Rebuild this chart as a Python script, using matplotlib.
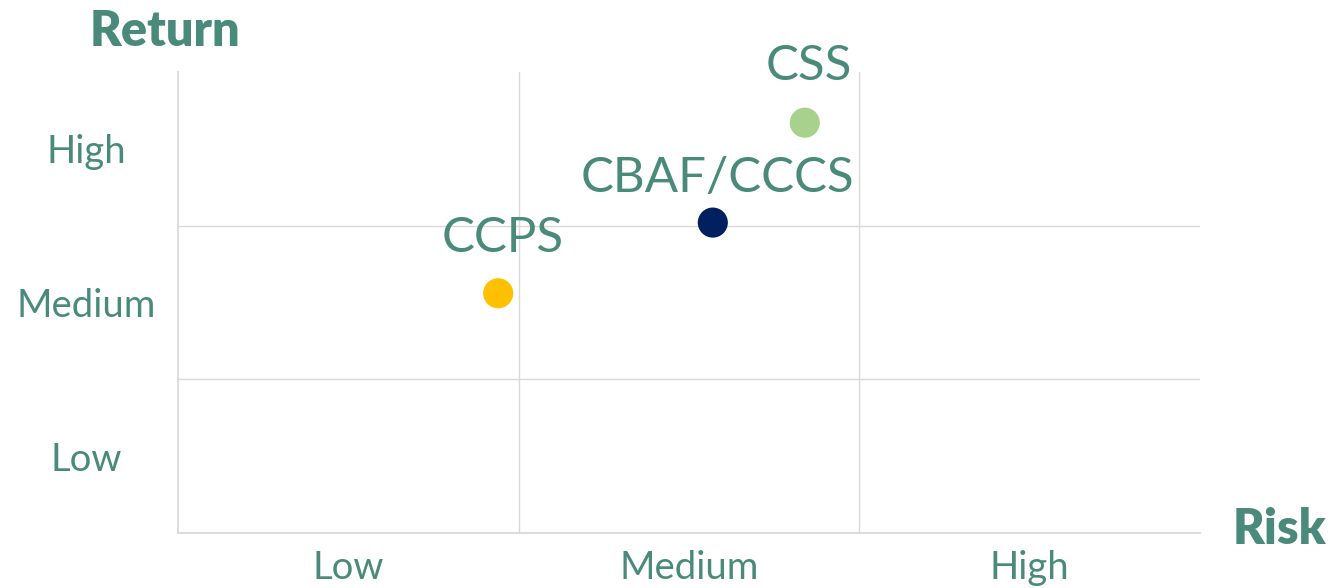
import matplotlib
matplotlib.use("Agg")
import matplotlib.pyplot as plt

plt.rcParams['font.family'] = ['Lato', 'DejaVu Sans']

# data
funds = ['CCPS', 'CBAF/CCCS', 'CSS']
risk = [0.94, 1.57, 1.84]
ret = [1.56, 2.02, 2.67]
fund_colors = ['#FFC000', '#002060', '#A9D18E']
levels = ['Low', 'Medium', 'High']

TEAL = '#4A8A7A'
GRID = '#D9D9D9'

fig = plt.figure(figsize=(13.33, 5.88), dpi=100)
ax = fig.add_axes([0.1335, 0.0935, 0.7667, 0.7841])

ax.set_xlim(0, 3)
ax.set_ylim(0, 3)

for v in [1, 2]:
    ax.axvline(v, color=GRID, lw=1, zorder=0)
    ax.axhline(v, color=GRID, lw=1, zorder=0)

ax.scatter(risk, ret, s=470, c=fund_colors, edgecolors='none', zorder=3)

label_offsets = [40, 32, 41]
for name, x, y, off in zip(funds, risk, ret, label_offsets):
    ax.annotate(name, (x, y), xytext=(3, off), textcoords='offset points',
                ha='center', va='center', fontsize=35.5, color=TEAL)

ax.set_xticks([0.5, 1.5, 2.5])
ax.set_xticklabels(levels)
ax.set_yticks([0.5, 1.5, 2.5])
ax.set_yticklabels(levels, ha='center')
ax.tick_params(axis='x', length=0, pad=12, labelsize=27.5, labelcolor=TEAL)
ax.tick_params(axis='y', length=0, pad=66, labelsize=27.5, labelcolor=TEAL)

for s in ['top', 'right']:
    ax.spines[s].set_visible(False)
for s in ['left', 'bottom']:
    ax.spines[s].set_color(GRID)
    ax.spines[s].set_linewidth(1.3)

fig.text(90 / 1333, 1 - 32 / 588, 'Return', fontsize=35, fontweight='heavy',
         color=TEAL, ha='left', va='center')
fig.text(1233 / 1333, 1 - 530 / 588, 'Risk', fontsize=35, fontweight='heavy',
         color=TEAL, ha='left', va='center')

fig.savefig('out.png', dpi=100)
